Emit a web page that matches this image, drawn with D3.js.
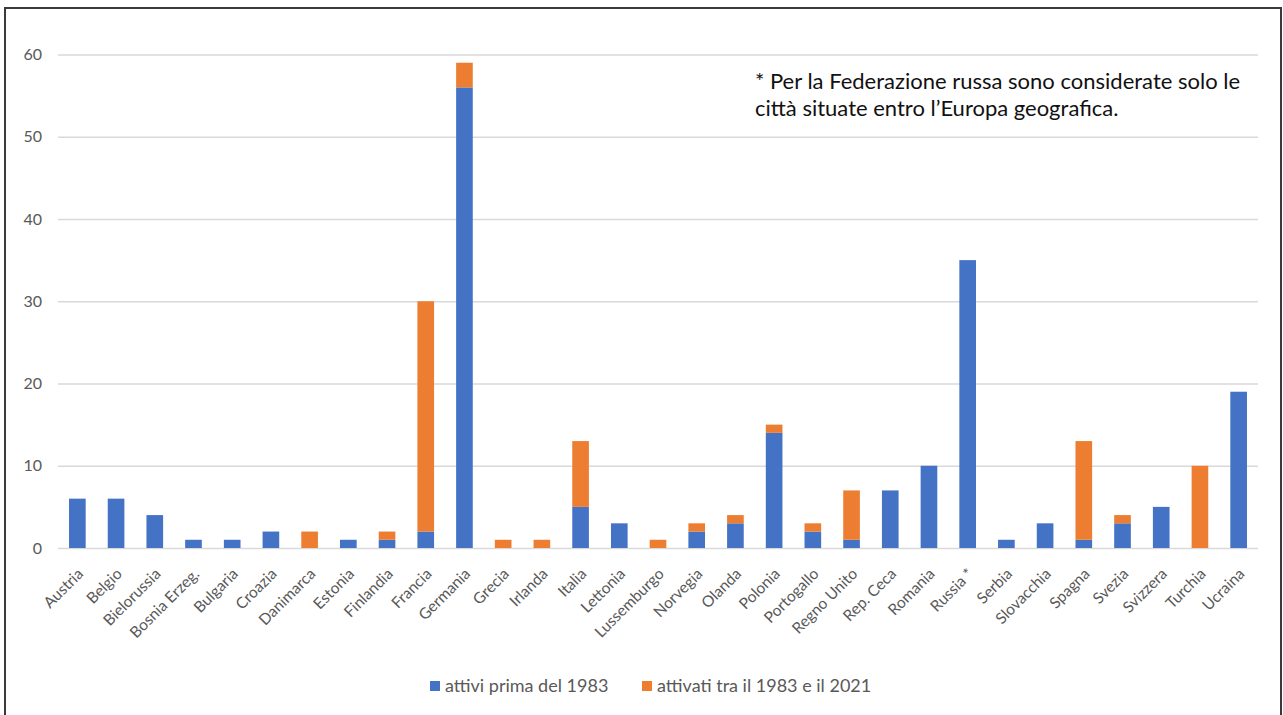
<!DOCTYPE html>
<html>
<head>
<meta charset="utf-8">
<script src="https://cdn.jsdelivr.net/npm/d3@7"></script>
<style>
  html, body { margin: 0; padding: 0; background: #fff; }
  svg { display: block; }
</style>
</head>
<body>
<svg id="chart" width="1283" height="715"></svg>
<script>
// Cities per country: active before 1983 and activated between 1983 and 2021
const countries = ["Austria", "Belgio", "Bielorussia", "Bosnia Erzeg.", "Bulgaria", "Croazia", "Danimarca",
  "Estonia", "Finlandia", "Francia", "Germania", "Grecia", "Irlanda", "Italia", "Lettonia", "Lussemburgo",
  "Norvegia", "Olanda", "Polonia", "Portogallo", "Regno Unito", "Rep. Ceca", "Romania", "Russia *",
  "Serbia", "Slovacchia", "Spagna", "Svezia", "Svizzera", "Turchia", "Ucraina"];
const attiviPrima = [6, 6, 4, 1, 1, 2, 0, 1, 1, 2, 56, 0, 0, 5, 3, 0, 2, 3, 14, 2, 1, 7, 10, 35, 1, 3, 1, 3, 5, 0, 19];
const attivatiDopo = [0, 0, 0, 0, 0, 0, 2, 0, 1, 28, 3, 1, 1, 8, 0, 1, 1, 1, 1, 1, 6, 0, 0, 0, 0, 0, 12, 1, 0, 10, 0];
const yTicks = [0, 10, 20, 30, 40, 50, 60];
const seriesNames = ["attivi prima del 1983", "attivati tra il 1983 e il 2021"];
const seriesColors = ["#4472C4", "#ED7D31"];
const noteLines = ["* Per la Federazione russa sono considerate solo le", "città situate entro l\u2019Europa geografica."];

const svg = d3.select("#chart");
const font = "Lato, 'Open Sans', sans-serif";

// Frame
svg.append("rect").attr("x", 5).attr("y", 8).attr("width", 1276).attr("height", 720)
  .attr("fill", "#fff").attr("stroke", "#3a3a3a").attr("stroke-width", 2);

const x = d3.scaleBand().domain(countries).range([58, 1258]).paddingInner(0.57).paddingOuter(0.285);
const y = d3.scaleLinear().domain([0, 60]).range([548, 54.5]);

// Gridlines + y labels
const yAxis = svg.append("g").attr("transform", "translate(58,0)")
  .call(d3.axisLeft(y).tickValues(yTicks).tickSize(-1200).tickPadding(16));
yAxis.select(".domain").remove();
yAxis.selectAll(".tick line").attr("stroke", "#d9d9d9").attr("stroke-width", 1.3);
yAxis.selectAll(".tick text").attr("fill", "#595959").style("font-family", font).style("font-size", "16px");

// Stacked bars
const rows = countries.map((c, i) => ({ country: c, a: attiviPrima[i], b: attivatiDopo[i] }));
const stack = d3.stack().keys(["a", "b"])(rows);
svg.append("g").selectAll("g").data(stack).join("g")
  .attr("fill", (d, i) => seriesColors[i])
  .selectAll("rect").data(d => d.filter(p => p[1] > p[0])).join("rect")
  .attr("x", d => x(d.data.country))
  .attr("width", x.bandwidth())
  .attr("y", d => y(d[1]))
  .attr("height", d => y(d[0]) - y(d[1]));

// Category labels
const xAxis = svg.append("g").attr("transform", "translate(0,548)")
  .call(d3.axisBottom(x).tickSize(0).tickPadding(0));
xAxis.select(".domain").remove();
xAxis.selectAll(".tick text")
  .attr("fill", "#595959").style("font-family", font).style("font-size", "15.5px")
  .attr("text-anchor", "end")
  .attr("dy", "0.35em")
  .attr("transform", "translate(3,23) rotate(-45)");

// Legend
const legend = svg.append("g").attr("transform", "translate(430,686)");
const legendX = [0, 212];
seriesNames.forEach((name, i) => {
  const g = legend.append("g").attr("transform", `translate(${legendX[i]},0)`);
  g.append("rect").attr("x", 0).attr("y", -5).attr("width", 10).attr("height", 10).attr("fill", seriesColors[i]);
  g.append("text").attr("x", 15).attr("y", 0).attr("dy", "0.35em")
    .attr("fill", "#595959").style("font-family", font).style("font-size", "18px").text(name);
});

// Note about Russia
svg.append("g").selectAll("text").data(noteLines).join("text")
  .attr("x", 755).attr("y", (d, i) => 89 + i * 27)
  .attr("fill", "#111").style("font-family", font).style("font-size", "22px")
  .text(d => d);
</script>
</body>
</html>
